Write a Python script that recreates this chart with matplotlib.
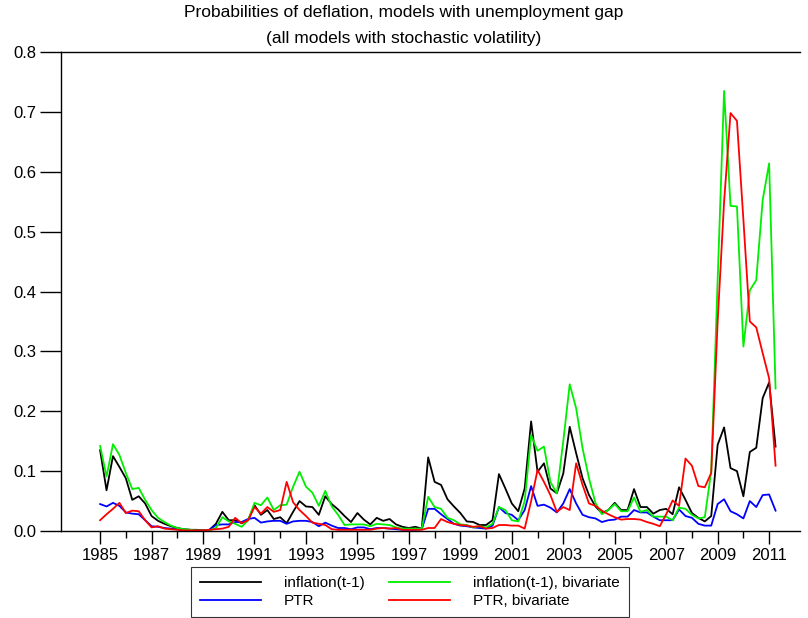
import numpy as np
import matplotlib
matplotlib.use('Agg')
import matplotlib.pyplot as plt
from matplotlib.ticker import FixedLocator

plt.rcParams['font.family'] = ['Liberation Sans', 'DejaVu Sans']

# quarterly, 1985Q1 .. 2011Q2
start_year = 1985
infl = [0.135, 0.068, 0.125, 0.107, 0.088, 0.052, 0.058, 0.046, 0.025, 0.017,
        0.012, 0.008, 0.005, 0.003, 0.002, 0.002, 0.001, 0.002, 0.012, 0.032,
        0.018, 0.018, 0.013, 0.018, 0.043, 0.027, 0.035, 0.020, 0.023, 0.013,
        0.032, 0.050, 0.041, 0.040, 0.027, 0.058, 0.045, 0.036, 0.025, 0.015,
        0.030, 0.019, 0.011, 0.022, 0.017, 0.020, 0.011, 0.007, 0.005, 0.007,
        0.004, 0.123, 0.082, 0.077, 0.053, 0.041, 0.030, 0.016, 0.015, 0.010,
        0.010, 0.018, 0.095, 0.071, 0.046, 0.033, 0.071, 0.183, 0.099, 0.113,
        0.071, 0.063, 0.096, 0.174, 0.130, 0.088, 0.060, 0.041, 0.030, 0.035,
        0.047, 0.035, 0.035, 0.070, 0.040, 0.040, 0.029, 0.035, 0.037, 0.028,
        0.073, 0.052, 0.030, 0.022, 0.016, 0.025, 0.144, 0.173, 0.105, 0.100,
        0.058, 0.132, 0.139, 0.222, 0.248, 0.141]
infl_biv = [0.142, 0.091, 0.145, 0.127, 0.097, 0.070, 0.072, 0.052, 0.035, 0.022,
            0.015, 0.009, 0.005, 0.003, 0.002, 0.001, 0.001, 0.001, 0.005, 0.023,
            0.016, 0.012, 0.007, 0.018, 0.047, 0.043, 0.056, 0.035, 0.043, 0.044,
            0.074, 0.099, 0.074, 0.064, 0.042, 0.067, 0.041, 0.027, 0.010, 0.011,
            0.011, 0.011, 0.008, 0.012, 0.011, 0.010, 0.006, 0.004, 0.004, 0.004,
            0.004, 0.057, 0.040, 0.037, 0.022, 0.018, 0.011, 0.010, 0.006, 0.008,
            0.006, 0.012, 0.040, 0.035, 0.018, 0.016, 0.050, 0.160, 0.134, 0.141,
            0.082, 0.063, 0.150, 0.245, 0.205, 0.138, 0.088, 0.047, 0.028, 0.035,
            0.045, 0.033, 0.033, 0.056, 0.032, 0.035, 0.024, 0.024, 0.024, 0.018,
            0.039, 0.037, 0.027, 0.021, 0.023, 0.100, 0.420, 0.735, 0.543, 0.542,
            0.308, 0.402, 0.419, 0.553, 0.614, 0.238]
ptr = [0.045, 0.041, 0.047, 0.042, 0.031, 0.029, 0.028, 0.018, 0.008, 0.007,
       0.005, 0.004, 0.003, 0.002, 0.002, 0.001, 0.001, 0.002, 0.010, 0.011,
       0.011, 0.015, 0.015, 0.020, 0.022, 0.014, 0.016, 0.017, 0.017, 0.012,
       0.016, 0.017, 0.017, 0.015, 0.008, 0.014, 0.009, 0.005, 0.005, 0.003,
       0.006, 0.006, 0.003, 0.005, 0.005, 0.004, 0.003, 0.002, 0.002, 0.002,
       0.003, 0.037, 0.037, 0.028, 0.020, 0.012, 0.009, 0.008, 0.006, 0.005,
       0.004, 0.009, 0.040, 0.030, 0.027, 0.018, 0.035, 0.075, 0.042, 0.044,
       0.039, 0.031, 0.046, 0.070, 0.046, 0.027, 0.023, 0.021, 0.015, 0.018,
       0.019, 0.024, 0.024, 0.035, 0.031, 0.031, 0.024, 0.018, 0.018, 0.018,
       0.036, 0.025, 0.022, 0.012, 0.009, 0.009, 0.045, 0.053, 0.033, 0.028,
       0.021, 0.050, 0.040, 0.060, 0.061, 0.034]
ptr_biv = [0.018, 0.028, 0.037, 0.047, 0.030, 0.034, 0.033, 0.018, 0.006, 0.008,
           0.004, 0.003, 0.002, 0.001, 0.001, 0.001, 0.001, 0.002, 0.003, 0.004,
           0.007, 0.022, 0.013, 0.018, 0.040, 0.029, 0.040, 0.032, 0.035, 0.082,
           0.048, 0.035, 0.025, 0.014, 0.012, 0.010, 0.003, 0.002, 0.002, 0.002,
           0.002, 0.002, 0.002, 0.004, 0.005, 0.004, 0.005, 0.002, 0.002, 0.002,
           0.002, 0.005, 0.005, 0.020, 0.015, 0.012, 0.010, 0.009, 0.007, 0.008,
           0.004, 0.005, 0.010, 0.010, 0.009, 0.009, 0.004, 0.050, 0.102, 0.082,
           0.060, 0.032, 0.040, 0.035, 0.113, 0.077, 0.046, 0.042, 0.034, 0.028,
           0.023, 0.019, 0.020, 0.020, 0.019, 0.015, 0.012, 0.008, 0.028, 0.051,
           0.042, 0.121, 0.109, 0.075, 0.073, 0.097, 0.350, 0.550, 0.698, 0.685,
           0.520, 0.350, 0.340, 0.297, 0.255, 0.109]

dates = start_year + np.arange(len(infl)) / 4.0

fig = plt.figure(figsize=(8.08, 6.18), dpi=100)
ax = fig.add_axes([61/808, 87/618, 739/808, 479/618])

lw = 1.3
ax.plot(dates, infl, color='black', lw=lw, label='inflation(t-1)')
ax.plot(dates, ptr, color='#0000ff', lw=lw, label='PTR')
ax.plot(dates, infl_biv, color='#00ee00', lw=lw, label='inflation(t-1), bivariate')
ax.plot(dates, ptr_biv, color='#ff0000', lw=lw, label='PTR, bivariate')

ax.set_xlim(1983.48, 2012.2)
ax.set_ylim(0, 0.8)
ax.set_xticks(np.arange(1985, 2012, 2))
ax.xaxis.set_minor_locator(FixedLocator(np.arange(1986, 2011, 2)))
ax.set_yticks(np.arange(0, 0.81, 0.1))
ax.set_yticklabels(['%.1f' % v for v in np.arange(0, 0.81, 0.1)])
ax.tick_params(axis='both', labelsize=12)
ax.tick_params(axis='x', which='major', length=9, width=1, pad=3)
ax.tick_params(axis='x', which='minor', length=5, width=1)
ax.tick_params(axis='y', length=15, width=1, pad=3)
ax.spines['right'].set_visible(False)
for s in ['left', 'bottom', 'top']:
    ax.spines[s].set_linewidth(1)

fig.text(0.5, 1 - 13/618, 'Probabilities of deflation, models with unemployment gap',
         ha='center', va='center', fontsize=12.5)
fig.text(0.5, 1 - 39/618, '(all models with stochastic volatility)',
         ha='center', va='center', fontsize=12.5)

leg = fig.legend(loc='center', bbox_to_anchor=(410/808, 1 - 592/618), ncol=2,
                 fontsize=11, frameon=True, fancybox=False, handlelength=4,
                 handletextpad=1.5, columnspacing=1.6, labelspacing=0.25,
                 borderpad=0.6)
leg.get_frame().set_edgecolor('black')
leg.get_frame().set_linewidth(0.8)

fig.savefig('out.png', dpi=100)
